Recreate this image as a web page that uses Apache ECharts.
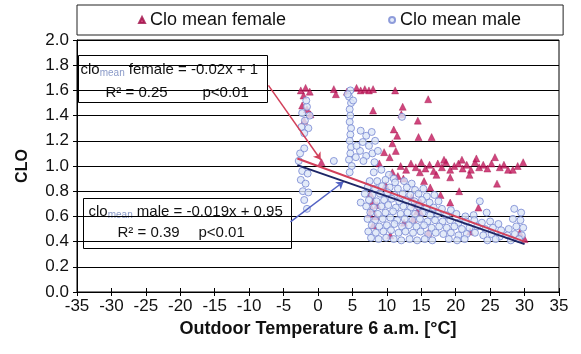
<!DOCTYPE html>
<html>
<head>
<meta charset="utf-8">
<script src="https://cdn.jsdelivr.net/npm/echarts@6/dist/echarts.min.js"></script>
<style>
html, body { margin: 0; padding: 0; background: #fff; }
#chart { width: 581px; height: 354px; }
</style>
</head>
<body>
<div id="chart"></div>
<script>
// Clothing insulation (clo) against outdoor temperature at 6 a.m.
const seriesNames = ['Clo mean female', 'Clo mean male'];

// [outdoor temperature °C, clo]
const femalePoints = [
  [-2.5,1.6],[-1.8,1.62],[-1.2,1.59],[-2.1,1.56],[2.3,1.61],[2.6,1.57],[4.2,1.59],[5.6,1.62],
  [6.2,1.6],[6.8,1.61],[7.4,1.6],[8.0,1.61],[11.2,1.6],[16.0,1.53],
  [-2.3,1.48],[-1.6,1.45],[-1.1,1.41],[-2.0,1.36],[8.0,1.44],[12.3,1.47],[12.1,1.41],
  [14.5,1.36],[11.0,1.29],[11.5,1.24],[14.6,1.23],[16.5,1.23],[10.8,1.18],
  [0.5,1.03],[9.6,1.11],[10.4,1.07],[11.3,1.12],[8.9,1.02],
  [12.0,1.0],[12.8,0.97],[13.5,1.02],[14.2,0.99],[15.0,1.03],[15.6,0.98],[16.2,1.01],[16.8,0.96],
  [17.4,1.02],[18.0,0.99],[18.6,1.03],[19.2,0.97],[19.8,1.0],[20.4,1.02],[21.0,0.98],[21.6,1.01],
  [22.2,0.97],[22.8,1.03],[23.4,0.99],[24.0,1.01],[24.6,0.98],[25.2,1.02],[25.7,1.07],[26.4,0.99],
  [27.0,1.01],[27.6,0.97],[28.3,0.97],[29.0,1.0],[29.8,1.03],[23.0,1.06],[18.3,1.05],[20.9,1.05],
  [14.8,0.95],[26.0,0.86],[19.2,0.91],[22.0,0.93],[17.2,0.93],
  [7.6,0.78],[8.0,0.72],[7.8,0.66],[8.4,0.6],[8.0,0.53],[7.5,0.62],[8.6,0.69],[13.6,0.75],
  [14.1,0.7],[14.9,0.71],[14.4,0.64],[14.9,0.63],[13.8,0.58],[10.8,0.95],[11.6,0.92],[12.4,0.9],
  [9.8,0.85],[15.4,0.88],[16.3,0.83],[19.2,0.71],[23.3,0.67],[22.1,0.48],[29.3,0.47],[30.0,0.42],
  [17.8,0.77],[20.5,0.8],[12.5,0.55],[10.5,0.45],[16.0,0.47]
];

const malePoints = [
  // column near 5 °C
  [4.7,1.6],[4.5,1.55],[4.8,1.5],[4.6,1.45],[4.7,1.4],[4.6,1.35],[4.8,1.3],[4.7,1.25],
  [4.6,1.2],[4.8,1.15],[4.7,1.1],[4.5,1.05],[4.9,1.0],[4.6,0.95],[4.3,1.57],[5.1,1.52],
  [6.2,1.28],[7.0,1.24],[7.8,1.27],[6.5,1.19],[7.4,1.16],[8.3,1.2],[6.1,1.12],[7.0,1.08],
  [7.9,1.1],[8.7,1.12],[6.6,1.04],[8.2,1.03],[5.6,1.16],[5.5,1.07],
  // cold mornings
  [-1.6,1.47],[-2.3,1.42],[-1.2,1.4],[-1.9,1.36],[-2.4,1.31],[-1.4,1.3],[-2.0,1.26],[-1.7,1.52],
  [-2.6,1.1],[-2.0,1.14],[-2.8,1.04],[-2.3,0.96],[-1.5,0.94],[-2.5,0.89],[-1.8,0.86],[-2.2,0.8],
  [-1.4,0.79],[-2.0,0.73],[-1.6,0.66],[2.3,1.04],[12.2,1.39],[6.2,0.71],
  [9.2,0.97],[10.3,0.93],[8.1,0.95],[11.0,0.9],
  // main cloud
  [7.5,0.88],[8.6,0.88],[9.8,0.89],[11.2,0.87],[12.5,0.88],[13.6,0.86],
  [7.2,0.83],[8.3,0.82],[9.3,0.84],[10.4,0.83],[11.6,0.82],[12.9,0.83],[14.1,0.81],[15.3,0.82],
  [6.8,0.78],[7.9,0.77],[9.0,0.78],[10.1,0.79],[11.1,0.77],[12.3,0.78],[13.4,0.77],[14.6,0.78],[15.8,0.76],[16.9,0.77],
  [7.4,0.73],[8.5,0.72],[9.6,0.73],[10.7,0.74],[11.8,0.72],[12.8,0.73],[14.0,0.72],[15.1,0.73],[16.2,0.71],[17.5,0.72],
  [7.0,0.68],[8.1,0.67],[9.2,0.68],[10.2,0.69],[11.3,0.67],[12.4,0.68],[13.5,0.67],[14.6,0.68],[15.7,0.66],[16.8,0.67],[18.0,0.66],[19.3,0.65],
  [7.6,0.63],[8.7,0.62],[9.8,0.63],[10.9,0.64],[12.0,0.62],[13.0,0.63],[14.1,0.62],[15.2,0.63],[16.3,0.61],[17.4,0.62],[18.6,0.61],[20.1,0.62],[21.4,0.6],[22.6,0.61],
  [7.2,0.58],[8.3,0.57],[9.4,0.58],[10.5,0.59],[11.5,0.57],[12.6,0.58],[13.7,0.57],[14.8,0.58],[15.9,0.56],[17.0,0.57],
  [18.1,0.56],[19.2,0.57],[20.4,0.55],[21.5,0.56],[22.7,0.57],[23.8,0.55],[25.0,0.56],[26.2,0.54],[28.3,0.58],[29.4,0.57],
  [7.8,0.53],[8.9,0.52],[10.0,0.53],[11.1,0.54],[12.2,0.52],[13.2,0.53],[14.3,0.52],[15.4,0.53],[16.5,0.51],[17.6,0.52],
  [18.7,0.51],[19.8,0.52],[20.9,0.5],[22.0,0.51],[23.1,0.52],[24.3,0.5],[25.4,0.51],[26.6,0.49],[27.7,0.5],[28.8,0.52],[29.8,0.51],
  [7.3,0.48],[8.4,0.47],[9.5,0.48],[10.6,0.49],[11.7,0.47],[12.7,0.48],[13.8,0.47],[14.9,0.48],[16.0,0.46],[17.1,0.47],
  [18.2,0.46],[19.3,0.47],[20.4,0.45],[21.6,0.46],[22.8,0.47],[24.0,0.45],[25.2,0.46],[26.4,0.44],[27.5,0.45],[28.6,0.46],[29.6,0.45],
  [7.7,0.43],[8.8,0.42],[9.9,0.43],[11.0,0.42],[12.1,0.41],[13.3,0.42],[14.4,0.41],[15.5,0.42],[16.6,0.41],
  [19.0,0.42],[20.2,0.41],[21.3,0.42],[24.6,0.41],[25.8,0.42],[28.0,0.41],[29.2,0.42],
  [23.5,0.72],[28.5,0.66],[29.5,0.63],[24.5,0.63]
];

// Linear fits: clo = slope * T + intercept
const fitSlopes = [-0.02, -0.019];
const fitIntercepts = [1, 0.95];
const fitRange = [-3, 30];

// Axis ticks
const xTicks = { min: -35, max: 35, interval: 5 };
const yTicks = { min: 0, max: 2, interval: 0.2 };

const femaleColor = '#c4185c';
const maleFill = '#dce6f7';
const maleStroke = '#7586d2';
const femaleFitColor = '#d2405a';
const maleFitColor = '#1d2666';

function fitLine(i) {
  return fitRange.map(t => [t, fitSlopes[i] * t + fitIntercepts[i]]);
}

const font = '"Liberation Sans", Arial, sans-serif';
const boxText = { fontSize: 15, fill: '#111', fontFamily: font };
const subText = { fontSize: 10, fill: '#8a9ac8', fontFamily: font, verticalAlign: 'bottom', padding: [7, 0, 0, 0] };

const chart = echarts.init(document.getElementById('chart'), null, { renderer: 'canvas' });

chart.setOption({
  animation: false,
  backgroundColor: '#fff',
  textStyle: { fontFamily: font },
  grid: {
    left: 77, right: 22, top: 40, bottom: 62,
    show: true, borderColor: '#000', borderWidth: 1, backgroundColor: 'transparent'
  },
  legend: {
    left: 77, top: 5,
    padding: [6, 42, 6, 61],
    itemGap: 102,
    itemWidth: 6, itemHeight: 6,
    backgroundColor: '#fff',
    borderColor: '#222', borderWidth: 1,
    textStyle: { fontSize: 18, color: '#111', fontFamily: font },
    data: seriesNames
  },
  xAxis: [{
    type: 'value', min: xTicks.min, max: xTicks.max, interval: xTicks.interval,
    name: 'Outdoor Temperature 6 a.m. [°C]', nameLocation: 'middle', nameGap: 25,
    nameTextStyle: { fontSize: 18, fontWeight: 'bold', color: '#111', fontFamily: font },
    axisLine: { show: true, onZero: false, lineStyle: { color: '#000', width: 1 } },
    axisTick: { show: true, inside: false, length: 4, lineStyle: { color: '#000' } },
    axisLabel: { fontSize: 17, color: '#111', margin: 6, fontFamily: font },
    splitLine: { show: false }
  }, {
    type: 'value', min: xTicks.min, max: xTicks.max, interval: xTicks.interval,
    position: 'bottom',
    axisLine: { show: false, onZero: false },
    axisTick: { show: true, inside: true, length: 4, lineStyle: { color: '#000' } },
    axisLabel: { show: false },
    splitLine: { show: false }
  }],
  yAxis: [{
    type: 'value', min: yTicks.min, max: yTicks.max, interval: yTicks.interval,
    name: 'CLO', nameLocation: 'middle', nameGap: 46, nameRotate: 90,
    nameTextStyle: { fontSize: 16, fontWeight: 'bold', color: '#111', fontFamily: font },
    axisLine: { show: true, onZero: false, lineStyle: { color: '#000', width: 1 } },
    axisTick: { show: true, length: 4, lineStyle: { color: '#000' } },
    axisLabel: { fontSize: 17, color: '#111', margin: 8, fontFamily: font,
      formatter: v => v.toFixed(1) },
    splitLine: { show: true, lineStyle: { color: '#000', width: 1 } }
  }],
  series: [{
    name: seriesNames[0],
    type: 'scatter',
    symbol: 'triangle',
    symbolSize: 7,
    itemStyle: { color: femaleColor, borderColor: '#a01048', borderWidth: 0.5 },
    data: femalePoints,
    z: 2
  }, {
    name: seriesNames[1],
    type: 'scatter',
    symbol: 'circle',
    symbolSize: 7,
    itemStyle: { color: maleFill, borderColor: maleStroke, borderWidth: 1 },
    data: malePoints,
    z: 3
  }, {
    name: 'female fit',
    type: 'line',
    data: fitLine(0),
    symbol: 'none',
    lineStyle: { color: femaleFitColor, width: 2 },
    z: 5,
    markLine: {
      silent: true,
      symbol: ['none', 'arrow'],
      symbolSize: 7,
      label: { show: false },
      lineStyle: { color: femaleFitColor, width: 1.5, type: 'solid' },
      data: [[{ coord: [-7.2, 1.64] }, { coord: [0.4, 1.05] }]]
    }
  }, {
    name: 'male fit',
    type: 'line',
    data: fitLine(1),
    symbol: 'none',
    lineStyle: { color: maleFitColor, width: 2 },
    z: 6,
    markLine: {
      silent: true,
      symbol: ['none', 'arrow'],
      symbolSize: 7,
      label: { show: false },
      lineStyle: { color: '#5262c4', width: 1.5, type: 'solid' },
      data: [[{ coord: [-4.0, 0.556] }, { coord: [3.7, 0.875] }]]
    }
  }],
  graphic: [
    {
      type: 'group', left: 78, top: 55, z: 100,
      children: [
        { type: 'rect', shape: { x: 0, y: 0, width: 189, height: 47 },
          style: { fill: '#fff', stroke: '#000', lineWidth: 1 } },
        { type: 'text', x: 2, y: 6,
          style: { text: '{a|clo}{s|mean}{a| female = -0.02x + 1}', rich: { a: boxText, s: subText } } },
        { type: 'text', x: 27, y: 30,
          style: Object.assign({ text: 'R² = 0.25' }, boxText) },
        { type: 'text', x: 124, y: 30,
          style: Object.assign({ text: 'p<0.01' }, boxText) }
      ]
    },
    {
      type: 'group', left: 83, top: 198, z: 100,
      children: [
        { type: 'rect', shape: { x: 0, y: 0, width: 208, height: 50 },
          style: { fill: '#fff', stroke: '#000', lineWidth: 1 } },
        { type: 'text', x: 5, y: 5,
          style: { text: '{a|clo}{s|mean}{a| male = -0.019x + 0.95}', rich: { a: boxText, s: subText } } },
        { type: 'text', x: 34, y: 27,
          style: Object.assign({ text: 'R² = 0.39' }, boxText) },
        { type: 'text', x: 115, y: 27,
          style: Object.assign({ text: 'p<0.01' }, boxText) }
      ]
    }
  ]
});
</script>
</body>
</html>
